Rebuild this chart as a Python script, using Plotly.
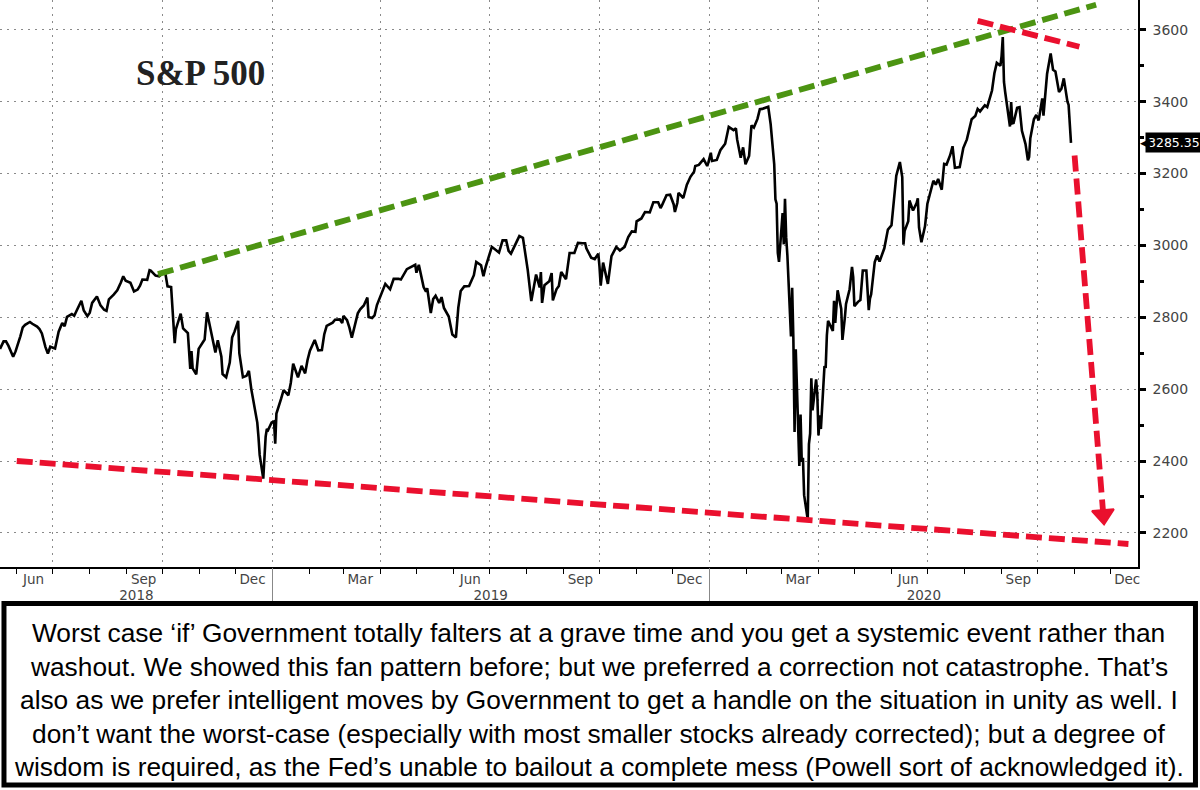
import plotly.graph_objects as go

# ---------------- data ----------------
dates = [
 "2018-05-18","2018-05-21","2018-05-23","2018-05-25","2018-05-29","2018-05-31","2018-06-04","2018-06-06","2018-06-08","2018-06-12",
 "2018-06-14","2018-06-18","2018-06-20","2018-06-22","2018-06-25","2018-06-27","2018-06-29","2018-07-03","2018-07-06","2018-07-09",
 "2018-07-11","2018-07-13","2018-07-17","2018-07-19","2018-07-25","2018-07-27","2018-07-30","2018-08-01","2018-08-03","2018-08-07",
 "2018-08-10","2018-08-13","2018-08-15","2018-08-17","2018-08-21","2018-08-24","2018-08-27","2018-08-29","2018-08-31","2018-09-04",
 "2018-09-07","2018-09-10","2018-09-12","2018-09-14","2018-09-18","2018-09-20","2018-09-21","2018-09-25","2018-09-28","2018-10-01",
 "2018-10-03","2018-10-05","2018-10-08","2018-10-10","2018-10-11","2018-10-12","2018-10-16","2018-10-18","2018-10-22","2018-10-24",
 "2018-10-25","2018-10-26","2018-10-29","2018-10-31","2018-11-02","2018-11-05","2018-11-07","2018-11-09","2018-11-12","2018-11-14",
 "2018-11-16","2018-11-19","2018-11-20","2018-11-23","2018-11-26","2018-11-28","2018-11-30","2018-12-03","2018-12-04","2018-12-07",
 "2018-12-10","2018-12-12","2018-12-14","2018-12-17","2018-12-19","2018-12-20","2018-12-21","2018-12-24","2018-12-26","2018-12-27",
 "2018-12-28","2018-12-31",
 "2019-01-02","2019-01-03","2019-01-04","2019-01-08","2019-01-10","2019-01-14","2019-01-16","2019-01-18","2019-01-22","2019-01-25",
 "2019-01-28","2019-01-30","2019-02-01","2019-02-05","2019-02-08","2019-02-11","2019-02-13","2019-02-15","2019-02-20","2019-02-22",
 "2019-02-26","2019-02-28","2019-03-01","2019-03-04","2019-03-06","2019-03-08","2019-03-11","2019-03-13","2019-03-15","2019-03-18",
 "2019-03-21","2019-03-22","2019-03-25","2019-03-27","2019-03-29","2019-04-02","2019-04-05","2019-04-09","2019-04-12","2019-04-16",
 "2019-04-18","2019-04-23","2019-04-26","2019-04-30","2019-05-01","2019-05-03","2019-05-07","2019-05-09","2019-05-10","2019-05-13",
 "2019-05-15","2019-05-17","2019-05-20","2019-05-22","2019-05-24","2019-05-28","2019-05-31","2019-06-03","2019-06-05","2019-06-07",
 "2019-06-10","2019-06-14","2019-06-18","2019-06-20","2019-06-24","2019-06-26","2019-06-28","2019-07-03","2019-07-09","2019-07-12",
 "2019-07-15","2019-07-17","2019-07-19","2019-07-23","2019-07-26","2019-07-29","2019-07-31","2019-08-01","2019-08-02","2019-08-05",
 "2019-08-07","2019-08-09","2019-08-12","2019-08-13","2019-08-14","2019-08-16","2019-08-20","2019-08-22","2019-08-23","2019-08-26",
 "2019-08-28","2019-08-30","2019-09-03","2019-09-06","2019-09-10","2019-09-13","2019-09-17","2019-09-19","2019-09-20","2019-09-24",
 "2019-09-27","2019-09-30","2019-10-01","2019-10-02","2019-10-04","2019-10-08","2019-10-11","2019-10-15","2019-10-18","2019-10-22",
 "2019-10-25","2019-10-28","2019-10-31","2019-11-01","2019-11-05","2019-11-08","2019-11-12","2019-11-15","2019-11-19","2019-11-21",
 "2019-11-22","2019-11-26","2019-11-29","2019-12-02","2019-12-03","2019-12-05","2019-12-06","2019-12-10","2019-12-13","2019-12-16",
 "2019-12-19","2019-12-20","2019-12-23","2019-12-27","2019-12-30","2019-12-31",
 "2020-01-02","2020-01-03","2020-01-07","2020-01-10","2020-01-14","2020-01-17","2020-01-21","2020-01-23","2020-01-24","2020-01-27",
 "2020-01-29","2020-01-31","2020-02-03","2020-02-05","2020-02-07","2020-02-10","2020-02-12","2020-02-14","2020-02-19","2020-02-21",
 "2020-02-24","2020-02-25","2020-02-26","2020-02-27","2020-02-28","2020-03-02","2020-03-03","2020-03-04","2020-03-05","2020-03-06",
 "2020-03-09","2020-03-10","2020-03-11","2020-03-12","2020-03-13","2020-03-16","2020-03-17","2020-03-18","2020-03-19","2020-03-20",
 "2020-03-23","2020-03-24","2020-03-25","2020-03-26","2020-03-27","2020-03-30","2020-03-31","2020-04-01","2020-04-02","2020-04-03",
 "2020-04-06","2020-04-07","2020-04-08","2020-04-09","2020-04-13","2020-04-14","2020-04-15","2020-04-17","2020-04-20","2020-04-21",
 "2020-04-23","2020-04-24","2020-04-27","2020-04-29","2020-04-30","2020-05-01","2020-05-04","2020-05-06","2020-05-08","2020-05-11",
 "2020-05-13","2020-05-14","2020-05-15","2020-05-18","2020-05-20","2020-05-22","2020-05-26","2020-05-28","2020-05-29","2020-06-01",
 "2020-06-03","2020-06-05","2020-06-08","2020-06-10","2020-06-11","2020-06-12","2020-06-15","2020-06-16","2020-06-19","2020-06-22",
 "2020-06-23","2020-06-24","2020-06-26","2020-06-29","2020-07-01","2020-07-02","2020-07-06","2020-07-08","2020-07-10","2020-07-13",
 "2020-07-15","2020-07-17","2020-07-20","2020-07-22","2020-07-24","2020-07-28","2020-07-31","2020-08-03","2020-08-05","2020-08-07",
 "2020-08-10","2020-08-12","2020-08-14","2020-08-18","2020-08-20","2020-08-21","2020-08-24","2020-08-26","2020-08-28","2020-08-31",
 "2020-09-01","2020-09-02","2020-09-03","2020-09-04","2020-09-08","2020-09-09","2020-09-10","2020-09-11","2020-09-14","2020-09-16",
 "2020-09-18","2020-09-21","2020-09-23","2020-09-24","2020-09-25","2020-09-28","2020-09-30","2020-10-02","2020-10-05","2020-10-06",
 "2020-10-08","2020-10-09","2020-10-12","2020-10-14","2020-10-16","2020-10-19","2020-10-21","2020-10-23","2020-10-26","2020-10-27",
 "2020-10-29",
]
closes = [
 2712,2733,2733,2721,2690,2705,2747,2772,2779,2787,
 2782,2774,2767,2755,2717,2699,2718,2713,2760,2784,
 2775,2801,2809,2804,2846,2819,2803,2813,2840,2858,
 2833,2821,2818,2850,2863,2875,2897,2914,2902,2896,
 2872,2877,2888,2905,2904,2931,2930,2916,2914,2924,
 2926,2886,2884,2786,2728,2767,2810,2769,2756,2656,
 2706,2658,2641,2712,2723,2738,2814,2781,2726,2702,
 2736,2690,2642,2633,2674,2744,2760,2790,2700,2633,
 2637,2651,2600,2546,2507,2467,2417,2351,2468,2489,
 2486,2507,
 2510,2448,2532,2574,2597,2583,2617,2671,2633,2665,
 2644,2681,2707,2737,2708,2709,2753,2776,2785,2793,
 2794,2784,2804,2792,2771,2743,2783,2811,2822,2833,
 2855,2801,2798,2805,2834,2867,2893,2878,2907,2907,
 2905,2934,2940,2946,2924,2946,2884,2871,2881,2812,
 2851,2860,2840,2856,2826,2802,2752,2744,2827,2873,
 2886,2887,2917,2954,2945,2914,2942,2996,2980,3014,
 3014,2985,2977,3005,3026,3021,2980,2954,2932,2845,
 2884,2919,2883,2926,2840,2889,2900,2923,2847,2878,
 2887,2926,2906,2979,2979,3007,3006,3006,2992,2966,
 2962,2977,2940,2888,2952,2893,2970,2996,2986,2996,
 3023,3039,3038,3067,3075,3093,3092,3120,3120,3104,
 3110,3140,3141,3114,3093,3118,3146,3132,3169,3191,
 3205,3221,3224,3240,3221,3231,
 3258,3235,3238,3265,3283,3330,3321,3326,3295,3244,
 3273,3226,3249,3334,3328,3352,3379,3380,3386,3338,
 3226,3128,3116,2979,2954,3090,3003,3130,3023,2972,
 2747,2882,2741,2481,2711,2386,2529,2398,2409,2305,
 2237,2447,2476,2630,2541,2627,2585,2471,2527,2489,
 2664,2659,2750,2790,2762,2846,2784,2875,2823,2737,
 2798,2837,2878,2940,2912,2831,2843,2848,2930,2930,
 2820,2852,2864,2954,2972,2955,2992,3030,3044,3056,
 3123,3194,3232,3190,3002,3041,3067,3125,3097,3118,
 3131,3050,3009,3053,3116,3130,3180,3169,3185,3155,
 3227,3225,3251,3276,3216,3218,3271,3295,3327,3351,
 3360,3380,3373,3390,3385,3397,3431,3479,3508,3500,
 3527,3580,3455,3427,3331,3399,3340,3341,3383,3385,
 3319,3282,3237,3246,3298,3351,3363,3348,3409,3361,
 3447,3477,3534,3489,3484,3427,3436,3465,3401,3391,
 3285.35,
]
last_value = 3285.35

# hand-drawn trend lines (date, level)
green_dates = ["2018-09-27", "2020-11-19"]
green_vals = [2920, 3670]
red_top_dates = ["2020-08-12", "2020-11-05"]
red_top_vals = [3625, 3553]
red_low_dates = ["2018-06-01", "2020-12-16"]
red_low_vals = [2400, 2169]
arrow_dates = ["2020-11-01", "2020-11-25"]
arrow_vals = [3250, 2250]

# axes
x_range = ["2018-05-18", "2020-12-24"]
y_range = [2105, 3683]
y_ticks = [2200, 2400, 2600, 2800, 3000, 3200, 3400, 3600]
grid_dates = ["2018-07-01", "2018-10-01", "2019-01-01", "2019-04-01", "2019-07-01",
              "2019-10-01", "2020-01-01", "2020-04-01", "2020-07-01", "2020-10-01"]
month_label_dates = ["2018-06-15", "2018-09-15", "2018-12-15", "2019-03-15", "2019-06-15",
                     "2019-09-15", "2019-12-15", "2020-03-15", "2020-06-15", "2020-09-15", "2020-12-15"]
month_labels = ["Jun", "Sep", "Dec", "Mar", "Jun", "Sep", "Dec", "Mar", "Jun", "Sep", "Dec"]
year_label_dates = ["2018-09-09", "2019-07-02", "2020-06-28"]
year_labels = ["2018", "2019", "2020"]
year_bound_dates = ["2019-01-01", "2020-01-01"]

title_text = "S&P 500"
note_lines = [
    "Worst case ‘if’ Government totally falters at a grave time and you get a systemic event rather than",
    "washout. We showed this fan pattern before; but we preferred a correction not catastrophe. That’s",
    "also as we prefer intelligent moves by Government to get a handle on the situation in unity as well. I",
    "don’t want the worst-case (especially with most smaller stocks already corrected); but a degree of",
    "wisdom is required, as the Fed’s unable to bailout a complete mess (Powell sort of acknowledged it).",
]

GREEN = "#4c9412"
RED = "#ea102e"
DASH = "16px,7px"

fig = go.Figure()

fig.add_trace(go.Scatter(x=dates, y=closes, mode="lines",
                         line=dict(color="black", width=2.6), hoverinfo="skip", showlegend=False))

for dx, dy, col in [(green_dates, green_vals, GREEN), (red_top_dates, red_top_vals, RED),
                    (red_low_dates, red_low_vals, RED)]:
    fig.add_trace(go.Scatter(x=dx, y=dy, mode="lines", line=dict(color=col, width=5.8, dash=DASH),
                             hoverinfo="skip", showlegend=False))

fig.add_trace(go.Scatter(x=arrow_dates, y=arrow_vals, mode="lines",
                         line=dict(color=RED, width=5.8, dash=DASH),
                         hoverinfo="skip", showlegend=False))
fig.add_trace(go.Scatter(x=arrow_dates, y=arrow_vals, mode="markers",
                         marker=dict(symbol="triangle-up", size=[0, 19], color=RED, opacity=1,
                                     angleref="previous", line=dict(color=RED, width=2)),
                         hoverinfo="skip", showlegend=False, cliponaxis=False))

# dummy traces for overlay axes
for ax in ["x2", "x3", "x4"]:
    fig.add_trace(go.Scatter(x=[dates[0]], y=[closes[0]], xaxis=ax, mode="markers",
                             marker=dict(opacity=0), hoverinfo="skip", showlegend=False))

tick_font = dict(family="DejaVu Sans", size=13.5, color="#444")

fig.update_layout(
    width=1200, height=790,
    margin=dict(l=0, r=62, t=0, b=223),
    paper_bgcolor="white", plot_bgcolor="white",
    xaxis=dict(type="date", range=x_range, tickvals=grid_dates, showticklabels=False,
               showgrid=True, gridcolor="#8a8a8a", gridwidth=1.2, griddash="2px,5px",
               ticks="outside", ticklen=5, tickcolor="black",
               minor=dict(dtick="M1", tick0="2018-06-01", ticks="outside", ticklen=5,
                          tickcolor="black", showgrid=False),
               showline=True, linecolor="black", linewidth=1.5, zeroline=False),
    xaxis2=dict(type="date", range=x_range, overlaying="x", anchor="y", side="bottom",
                tickvals=month_label_dates, ticktext=month_labels, ticks="", showgrid=False,
                tickfont=tick_font, ticklabelstandoff=2, showline=False, zeroline=False),
    xaxis3=dict(type="date", range=x_range, overlaying="x", anchor="y", side="bottom",
                tickvals=year_label_dates, ticktext=year_labels, ticks="", showgrid=False,
                tickfont=tick_font, ticklabelstandoff=18, showline=False, zeroline=False),
    xaxis4=dict(type="date", range=x_range, overlaying="x", anchor="y", side="bottom",
                tickvals=year_bound_dates, showticklabels=False, ticks="outside", ticklen=34,
                tickcolor="#888", tickwidth=1, showgrid=False, showline=False, zeroline=False),
    yaxis=dict(range=y_range, side="right", tickvals=y_ticks,
               tickfont=dict(family="DejaVu Sans", size=14, color="#444"),
               showgrid=True, gridcolor="#8a8a8a", gridwidth=1.2, griddash="2px,5px",
               ticks="outside", ticklen=6, tickwidth=3, tickcolor="black", ticklabelstandoff=4,
               minor=dict(dtick=100, ticks="outside", ticklen=4, tickcolor="black", showgrid=False),
               showline=True, linecolor="black", linewidth=1.5, zeroline=False),
)

annotations = [
    dict(text="<b>" + title_text + "</b>", xref="paper", yref="paper", x=0.176, y=0.871,
         xanchor="center", yanchor="middle",
         showarrow=False, font=dict(family="Liberation Serif", size=35, color="#222")),
    dict(text=f"{last_value:.2f}", xref="paper", yref="y", x=1, y=last_value, xanchor="left",
         yanchor="middle", xshift=7, showarrow=False, bgcolor="black", borderpad=2,
         font=dict(family="DejaVu Sans", size=12.5, color="white")),
    dict(text="◀", xref="paper", yref="y", x=1, y=last_value, xanchor="left", yanchor="middle",
         xshift=0, showarrow=False, font=dict(family="DejaVu Sans", size=13, color="black")),
]
for i, line in enumerate(note_lines):
    annotations.append(dict(text=line, xref="paper", yref="paper", x=0.5262, y=0,
                            xanchor="center", yanchor="middle", yshift=-(66 + i * 33.5),
                            showarrow=False,
                            font=dict(family="Liberation Sans", size=26.3, color="black")))
fig.update_layout(annotations=annotations)

fig.add_shape(type="rect", xref="paper", yref="paper", x0=0.0035, x1=1.0505,
              y0=-0.3845, y1=-0.0645, line=dict(color="black", width=5), fillcolor="rgba(0,0,0,0)")

fig.write_html("out.html", config={"displayModeBar": False},
               post_script="document.body.style.margin='0';document.body.style.overflow='hidden';")
